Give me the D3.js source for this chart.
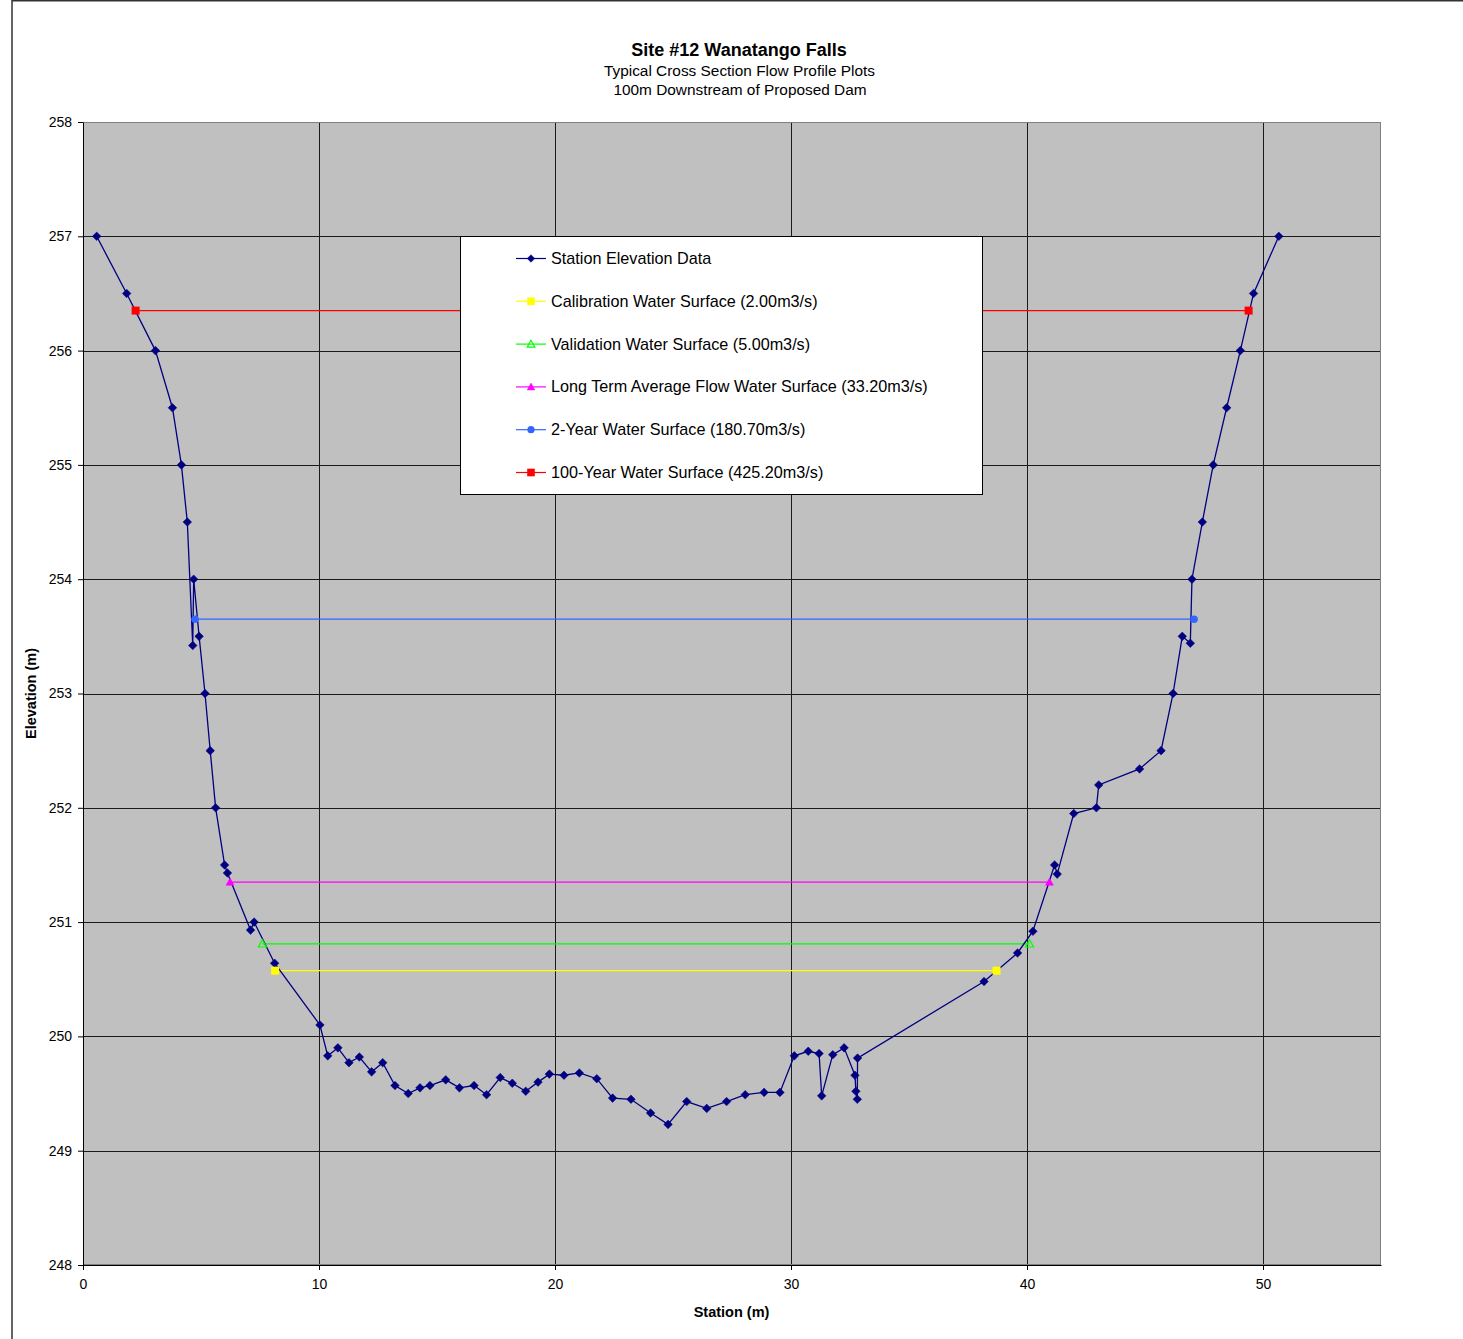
<!DOCTYPE html>
<html>
<head>
<meta charset="utf-8">
<script src="https://cdn.jsdelivr.net/npm/d3@7"></script>
<style>
  html, body { margin: 0; padding: 0; background: #fff; }
  svg { display: block; font-family: "Liberation Sans", Arial, sans-serif; }
</style>
</head>
<body>
<svg id="chart" width="1463" height="1339"></svg>
<script>
// ---- Data ----
const stations = [0.58, 1.85, 3.07, 3.79, 4.17, 4.42, 4.65, 4.69, 4.92, 5.17, 5.39, 5.62, 6.0, 6.12, 7.1, 7.25, 8.12,
  10.04, 10.37, 10.8, 11.27, 11.71, 12.23, 12.7, 13.22, 13.78, 14.28, 14.7, 15.37, 15.95, 16.57, 17.1, 17.68, 18.19,
  18.76, 19.28, 19.76, 20.38, 21.03, 21.77, 22.44, 23.22, 24.05, 24.79, 25.58, 26.43, 27.27, 28.06, 28.86, 29.53,
  30.14, 30.73, 31.19, 31.3, 31.77, 32.25, 32.71, 32.75, 32.81, 32.82, 38.18, 39.6, 40.25, 41.17, 41.28, 41.98,
  42.94, 43.04, 44.77, 45.68, 46.19, 46.58, 46.92, 46.99, 47.43, 47.89, 48.46, 49.04, 49.6, 50.67];
const elevations = [257.0, 256.5, 256.0, 255.5, 255.0, 254.5, 253.42, 254.0, 253.5, 253.0, 252.5, 252.0, 251.5, 251.43, 250.93, 251.0, 250.64,
  250.1, 249.83, 249.9, 249.77, 249.82, 249.69, 249.77, 249.57, 249.5, 249.55, 249.57, 249.62, 249.55, 249.57, 249.49, 249.64, 249.59,
  249.52, 249.6, 249.67, 249.66, 249.68, 249.63, 249.46, 249.45, 249.33, 249.23, 249.43, 249.37, 249.43, 249.49, 249.51, 249.51,
  249.83, 249.87, 249.85, 249.48, 249.84, 249.9, 249.66, 249.52, 249.45, 249.81, 250.48, 250.73, 250.92, 251.5, 251.42, 251.95,
  252.0, 252.2, 252.34, 252.5, 253.0, 253.5, 253.44, 254.0, 254.5, 255.0, 255.5, 256.0, 256.5, 257.0];

const surfaceNames = [
  "Calibration Water Surface (2.00m3/s)",
  "Validation Water Surface (5.00m3/s)",
  "Long Term Average Flow Water Surface (33.20m3/s)",
  "2-Year Water Surface (180.70m3/s)",
  "100-Year Water Surface (425.20m3/s)"
];
const surfaceStart = [8.14, 7.6, 6.23, 4.75, 2.23];
const surfaceEnd = [38.71, 40.11, 40.95, 47.08, 49.39];
const surfaceLevel = [250.575, 250.81, 251.35, 253.65, 256.35];

const xTicks = [0, 10, 20, 30, 40, 50];
const yTicks = [248, 249, 250, 251, 252, 253, 254, 255, 256, 257, 258];

// ---- Styles ----
const surfaceColor = ["#ffff00", "#00ff00", "#ff00ff", "#3366ff", "#ff0000"];
const surfaceMarker = ["square", "triangleOpen", "triangle", "circle", "square"];
const mainColor = "#000080";

const svg = d3.select("#chart");
const W = 1463, H = 1339;
const plot = { left: 83, right: 1381, top: 122, bottom: 1265 };

// outer frame
svg.append("rect").attr("x", 12).attr("y", 0.75).attr("width", W + 20).attr("height", H + 20)
  .attr("fill", "#fff").attr("stroke", "#333").attr("stroke-width", 1.5);

const x = d3.scaleLinear().domain([0, 55]).range([plot.left, plot.right]);
const y = d3.scaleLinear().domain([248, 258]).range([plot.bottom, plot.top]);

// plot background
svg.append("rect").attr("x", plot.left).attr("y", plot.top)
  .attr("width", plot.right - plot.left).attr("height", plot.bottom - plot.top)
  .attr("fill", "#c0c0c0");

// gridlines
const grid = svg.append("g");
grid.selectAll("line.h").data(yTicks.slice(1, -1)).join("line")
  .attr("x1", plot.left).attr("x2", plot.right)
  .attr("y1", d => Math.round(y(d)) + 0.5).attr("y2", d => Math.round(y(d)) + 0.5)
  .attr("stroke", "#1a1a1a").attr("stroke-width", 1);
grid.selectAll("line.v").data(xTicks.slice(1)).join("line")
  .attr("y1", plot.top).attr("y2", plot.bottom)
  .attr("x1", d => Math.round(x(d)) + 0.5).attr("x2", d => Math.round(x(d)) + 0.5)
  .attr("stroke", "#1a1a1a").attr("stroke-width", 1);

// plot border (gray)
svg.append("rect").attr("x", plot.left + 0.5).attr("y", plot.top + 0.5)
  .attr("width", plot.right - plot.left - 1).attr("height", plot.bottom - plot.top - 1)
  .attr("fill", "none").attr("stroke", "#808080").attr("stroke-width", 1);

// axes
const xAxis = svg.append("g").attr("transform", `translate(0,${plot.bottom})`)
  .call(d3.axisBottom(x).tickValues(xTicks).tickSize(5).tickSizeOuter(0).tickPadding(9).tickFormat(d3.format("d")));
const yAxis = svg.append("g").attr("transform", `translate(${plot.left},0)`)
  .call(d3.axisLeft(y).tickValues(yTicks).tickSize(5).tickSizeOuter(0).tickPadding(6).tickFormat(d3.format("d")));
[xAxis, yAxis].forEach(a => {
  a.select(".domain").attr("stroke", "#000").attr("stroke-width", 1);
  a.selectAll(".tick line").attr("stroke", "#000");
  a.selectAll(".tick text").attr("font-size", 14).attr("fill", "#000")
    .attr("font-family", "'Liberation Sans', Arial, sans-serif");
});

// markers
function drawMarker(g, type, cx, cy, color, s) {
  if (type === "diamond") {
    g.append("path").attr("d", `M${cx},${cy - s}L${cx + s},${cy}L${cx},${cy + s}L${cx - s},${cy}Z`)
      .attr("fill", color).attr("stroke", color).attr("stroke-width", 0.5);
  } else if (type === "square") {
    g.append("rect").attr("x", cx - s).attr("y", cy - s).attr("width", 2 * s).attr("height", 2 * s)
      .attr("fill", color);
  } else if (type === "triangle" || type === "triangleOpen") {
    const open = type === "triangleOpen";
    g.append("path").attr("d", `M${cx},${cy - s}L${cx + s},${cy + s * 0.8}L${cx - s},${cy + s * 0.8}Z`)
      .attr("fill", open ? "none" : color).attr("stroke", color).attr("stroke-width", open ? 1.2 : 0.5);
  } else if (type === "circle") {
    g.append("circle").attr("cx", cx).attr("cy", cy).attr("r", s).attr("fill", color);
  }
}

// water surfaces
const surf = svg.append("g");
surfaceNames.forEach((name, i) => {
  const pts = [[surfaceStart[i], surfaceLevel[i]], [surfaceEnd[i], surfaceLevel[i]]];
  surf.append("path").datum(pts)
    .attr("d", d3.line().x(d => x(d[0])).y(d => y(d[1])))
    .attr("fill", "none").attr("stroke", surfaceColor[i]).attr("stroke-width", 1.2);
});

// station elevation line
const mainData = stations.map((s, i) => [s, elevations[i]]);
svg.append("path").datum(mainData)
  .attr("d", d3.line().x(d => x(d[0])).y(d => y(d[1])))
  .attr("fill", "none").attr("stroke", mainColor).attr("stroke-width", 1.3);
const mk = svg.append("g");
mainData.forEach(d => drawMarker(mk, "diamond", x(d[0]), y(d[1]), mainColor, 4.3));

// surface markers
surfaceNames.forEach((name, i) => {
  [surfaceStart[i], surfaceEnd[i]].forEach(s => {
    const sz = surfaceMarker[i] === "circle" ? 3.8 : 4;
    drawMarker(mk, surfaceMarker[i], x(s), y(surfaceLevel[i]), surfaceColor[i], sz);
  });
});

// legend
const lg = svg.append("g");
lg.append("rect").attr("x", 460.5).attr("y", 236.5).attr("width", 522).attr("height", 258)
  .attr("fill", "#fff").attr("stroke", "#000").attr("stroke-width", 1);
const legendNames = ["Station Elevation Data"].concat(surfaceNames);
const legendColors = [mainColor].concat(surfaceColor);
const legendMarkers = ["diamond"].concat(surfaceMarker);
legendNames.forEach((name, i) => {
  const ly = 258.5 + i * 42.8;
  lg.append("line").attr("x1", 516).attr("x2", 546).attr("y1", ly).attr("y2", ly)
    .attr("stroke", legendColors[i]).attr("stroke-width", 1.2);
  drawMarker(lg, legendMarkers[i], 531, ly, legendColors[i], legendMarkers[i] === "circle" ? 3.6 : 3.8);
  lg.append("text").attr("x", 551).attr("y", ly + 5.5).attr("font-size", 16.2).attr("fill", "#000")
    .text(name);
});

// titles
svg.append("text").attr("x", 739).attr("y", 56).attr("text-anchor", "middle")
  .attr("font-size", 18).attr("font-weight", "bold").text("Site #12 Wanatango Falls");
svg.append("text").attr("x", 739.5).attr("y", 76).attr("text-anchor", "middle")
  .attr("font-size", 15.4).text("Typical Cross Section Flow Profile Plots");
svg.append("text").attr("x", 740).attr("y", 95).attr("text-anchor", "middle")
  .attr("font-size", 15.4).text("100m Downstream of Proposed Dam");

// axis titles
svg.append("text").attr("x", 731.5).attr("y", 1317).attr("text-anchor", "middle")
  .attr("font-size", 14.5).attr("font-weight", "bold").text("Station (m)");
svg.append("text").attr("transform", "translate(36,693.5) rotate(-90)").attr("text-anchor", "middle")
  .attr("font-size", 14.5).attr("font-weight", "bold").text("Elevation (m)");
</script>
</body>
</html>
